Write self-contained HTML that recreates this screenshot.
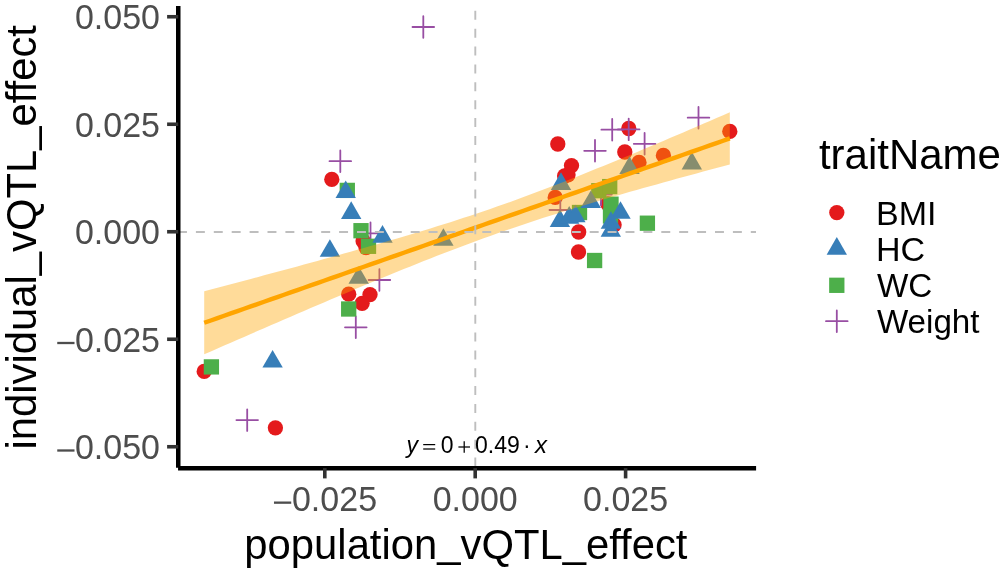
<!DOCTYPE html>
<html><head><meta charset="utf-8"><style>
html,body{margin:0;padding:0;background:#fff;}
body{width:1000px;height:579px;overflow:hidden;}
svg{display:block;will-change:transform;}
text{font-family:"Liberation Sans",sans-serif;}
</style></head><body>
<svg width="1000" height="579" viewBox="0 0 1000 579">
<rect width="1000" height="579" fill="#fff"/>
<g>
<circle cx="331.80" cy="179.40" r="7.65" fill="#E41A1C"/>
<circle cx="363.10" cy="241.00" r="7.65" fill="#E41A1C"/>
<circle cx="366.00" cy="247.50" r="7.65" fill="#E41A1C"/>
<circle cx="348.70" cy="294.20" r="7.65" fill="#E41A1C"/>
<circle cx="370.00" cy="294.60" r="7.65" fill="#E41A1C"/>
<circle cx="362.10" cy="303.30" r="7.65" fill="#E41A1C"/>
<circle cx="204.20" cy="371.40" r="7.65" fill="#E41A1C"/>
<circle cx="275.40" cy="427.80" r="7.65" fill="#E41A1C"/>
<circle cx="557.80" cy="144.00" r="7.65" fill="#E41A1C"/>
<circle cx="571.50" cy="165.60" r="7.65" fill="#E41A1C"/>
<circle cx="564.60" cy="176.00" r="7.65" fill="#E41A1C"/>
<circle cx="568.00" cy="174.80" r="7.65" fill="#E41A1C"/>
<circle cx="555.20" cy="197.40" r="7.65" fill="#E41A1C"/>
<circle cx="578.70" cy="232.00" r="7.65" fill="#E41A1C"/>
<circle cx="578.50" cy="252.00" r="7.65" fill="#E41A1C"/>
<circle cx="607.90" cy="203.80" r="7.65" fill="#E41A1C"/>
<circle cx="614.10" cy="224.80" r="7.65" fill="#E41A1C"/>
<circle cx="628.80" cy="128.50" r="7.65" fill="#E41A1C"/>
<circle cx="624.80" cy="152.00" r="7.65" fill="#E41A1C"/>
<circle cx="639.00" cy="162.40" r="7.65" fill="#E41A1C"/>
<circle cx="663.40" cy="155.40" r="7.65" fill="#E41A1C"/>
<circle cx="729.80" cy="131.40" r="7.65" fill="#E41A1C"/>
<path d="M412.50,27.00 H434.10 M423.30,16.20 V37.80" stroke="#984EA3" stroke-width="1.8" stroke-linecap="round" fill="none"/>
<path d="M329.50,161.20 H351.10 M340.30,150.40 V172.00" stroke="#984EA3" stroke-width="1.8" stroke-linecap="round" fill="none"/>
<path d="M359.70,233.30 H381.30 M370.50,222.50 V244.10" stroke="#984EA3" stroke-width="1.8" stroke-linecap="round" fill="none"/>
<path d="M368.60,280.00 H390.20 M379.40,269.20 V290.80" stroke="#984EA3" stroke-width="1.8" stroke-linecap="round" fill="none"/>
<path d="M345.00,327.30 H366.60 M355.80,316.50 V338.10" stroke="#984EA3" stroke-width="1.8" stroke-linecap="round" fill="none"/>
<path d="M236.40,420.10 H258.00 M247.20,409.30 V430.90" stroke="#984EA3" stroke-width="1.8" stroke-linecap="round" fill="none"/>
<path d="M584.20,150.80 H605.80 M595.00,140.00 V161.60" stroke="#984EA3" stroke-width="1.8" stroke-linecap="round" fill="none"/>
<path d="M549.50,210.00 H571.10 M560.30,199.20 V220.80" stroke="#984EA3" stroke-width="1.8" stroke-linecap="round" fill="none"/>
<path d="M590.20,194.50 H611.80 M601.00,183.70 V205.30" stroke="#984EA3" stroke-width="1.8" stroke-linecap="round" fill="none"/>
<path d="M601.40,129.70 H623.00 M612.20,118.90 V140.50" stroke="#984EA3" stroke-width="1.8" stroke-linecap="round" fill="none"/>
<path d="M617.90,129.40 H639.50 M628.70,118.60 V140.20" stroke="#984EA3" stroke-width="1.8" stroke-linecap="round" fill="none"/>
<path d="M633.80,143.80 H655.40 M644.60,133.00 V154.60" stroke="#984EA3" stroke-width="1.8" stroke-linecap="round" fill="none"/>
<path d="M687.70,117.70 H709.30 M698.50,106.90 V128.50" stroke="#984EA3" stroke-width="1.8" stroke-linecap="round" fill="none"/>
<rect x="339.65" y="182.75" width="15.3" height="15.3" fill="#4DAF4A"/>
<rect x="353.35" y="223.05" width="15.3" height="15.3" fill="#4DAF4A"/>
<rect x="360.85" y="238.65" width="15.3" height="15.3" fill="#4DAF4A"/>
<rect x="341.05" y="301.35" width="15.3" height="15.3" fill="#4DAF4A"/>
<rect x="203.75" y="359.25" width="15.3" height="15.3" fill="#4DAF4A"/>
<rect x="571.85" y="204.85" width="15.3" height="15.3" fill="#4DAF4A"/>
<rect x="586.95" y="252.85" width="15.3" height="15.3" fill="#4DAF4A"/>
<rect x="591.15" y="183.05" width="15.3" height="15.3" fill="#4DAF4A"/>
<rect x="602.05" y="178.95" width="15.3" height="15.3" fill="#4DAF4A"/>
<rect x="603.35" y="196.55" width="15.3" height="15.3" fill="#4DAF4A"/>
<rect x="602.85" y="208.35" width="15.3" height="15.3" fill="#4DAF4A"/>
<rect x="639.75" y="215.55" width="15.3" height="15.3" fill="#4DAF4A"/>
<path d="M345.70,180.45 L355.88,198.07 L335.52,198.07 Z" fill="#377EB8"/>
<path d="M351.20,201.35 L361.38,218.97 L341.02,218.97 Z" fill="#377EB8"/>
<path d="M329.90,239.15 L340.08,256.77 L319.72,256.77 Z" fill="#377EB8"/>
<path d="M382.50,225.05 L392.68,242.68 L372.32,242.68 Z" fill="#377EB8"/>
<path d="M358.70,266.15 L368.88,283.77 L348.52,283.77 Z" fill="#377EB8"/>
<path d="M443.40,228.15 L453.58,245.78 L433.22,245.78 Z" fill="#377EB8"/>
<path d="M272.60,349.95 L282.78,367.57 L262.42,367.57 Z" fill="#377EB8"/>
<path d="M561.00,172.25 L571.18,189.88 L550.82,189.88 Z" fill="#377EB8"/>
<path d="M559.90,209.25 L570.08,226.88 L549.72,226.88 Z" fill="#377EB8"/>
<path d="M569.20,206.05 L579.38,223.68 L559.02,223.68 Z" fill="#377EB8"/>
<path d="M575.40,204.65 L585.58,222.28 L565.22,222.28 Z" fill="#377EB8"/>
<path d="M590.80,190.45 L600.98,208.07 L580.62,208.07 Z" fill="#377EB8"/>
<path d="M620.50,201.15 L630.68,218.78 L610.32,218.78 Z" fill="#377EB8"/>
<path d="M610.90,211.15 L621.08,228.78 L600.72,228.78 Z" fill="#377EB8"/>
<path d="M610.80,219.05 L620.98,236.68 L600.62,236.68 Z" fill="#377EB8"/>
<path d="M629.50,156.25 L639.68,173.88 L619.32,173.88 Z" fill="#377EB8"/>
<path d="M691.80,151.75 L701.98,169.38 L681.62,169.38 Z" fill="#377EB8"/>
</g>
<path d="M204.20,291.24 L210.85,289.48 L217.51,287.73 L224.16,285.97 L230.81,284.21 L237.47,282.44 L244.12,280.67 L250.77,278.90 L257.43,277.13 L264.08,275.35 L270.73,273.57 L277.38,271.78 L284.04,269.99 L290.69,268.19 L297.34,266.39 L304.00,264.58 L310.65,262.77 L317.30,260.95 L323.96,259.12 L330.61,257.29 L337.26,255.44 L343.92,253.59 L350.57,251.73 L357.22,249.86 L363.88,247.98 L370.53,246.09 L377.18,244.19 L383.84,242.27 L390.49,240.34 L397.14,238.39 L403.79,236.43 L410.45,234.45 L417.10,232.45 L423.75,230.44 L430.41,228.40 L437.06,226.34 L443.71,224.25 L450.37,222.15 L457.02,220.01 L463.67,217.85 L470.33,215.66 L476.98,213.44 L483.63,211.20 L490.29,208.92 L496.94,206.61 L503.59,204.27 L510.25,201.90 L516.90,199.50 L523.55,197.07 L530.21,194.61 L536.86,192.12 L543.51,189.61 L550.16,187.06 L556.82,184.50 L563.47,181.90 L570.12,179.29 L576.78,176.65 L583.43,174.00 L590.08,171.32 L596.74,168.62 L603.39,165.91 L610.04,163.19 L616.70,160.44 L623.35,157.69 L630.00,154.92 L636.66,152.14 L643.31,149.35 L649.96,146.54 L656.62,143.73 L663.27,140.91 L669.92,138.08 L676.57,135.25 L683.23,132.40 L689.88,129.55 L696.53,126.70 L703.19,123.83 L709.84,120.96 L716.49,118.09 L723.15,115.21 L729.80,112.33 L729.80,164.43 L723.15,166.21 L716.49,168.00 L709.84,169.80 L703.19,171.60 L696.53,173.40 L689.88,175.22 L683.23,177.03 L676.57,178.86 L669.92,180.69 L663.27,182.53 L656.62,184.38 L649.96,186.24 L643.31,188.10 L636.66,189.98 L630.00,191.87 L623.35,193.77 L616.70,195.68 L610.04,197.61 L603.39,199.55 L596.74,201.51 L590.08,203.48 L583.43,205.47 L576.78,207.48 L570.12,209.51 L563.47,211.57 L556.82,213.65 L550.16,215.75 L543.51,217.87 L536.86,220.03 L530.21,222.21 L523.55,224.42 L516.90,226.65 L510.25,228.92 L503.59,231.22 L496.94,233.55 L490.29,235.91 L483.63,238.30 L476.98,240.72 L470.33,243.17 L463.67,245.65 L457.02,248.16 L450.37,250.70 L443.71,253.26 L437.06,255.84 L430.41,258.45 L423.75,261.08 L417.10,263.73 L410.45,266.40 L403.79,269.09 L397.14,271.80 L390.49,274.52 L383.84,277.26 L377.18,280.01 L370.53,282.77 L363.88,285.55 L357.22,288.34 L350.57,291.14 L343.92,293.95 L337.26,296.77 L330.61,299.59 L323.96,302.43 L317.30,305.27 L310.65,308.12 L304.00,310.97 L297.34,313.83 L290.69,316.70 L284.04,319.57 L277.38,322.45 L270.73,325.33 L264.08,328.22 L257.43,331.11 L250.77,334.00 L244.12,336.90 L237.47,339.80 L230.81,342.70 L224.16,345.61 L217.51,348.52 L210.85,351.43 L204.20,354.35 Z" fill="#FFA500" fill-opacity="0.4"/>
<path d="M204.20,322.79 L210.85,320.46 L217.51,318.12 L224.16,315.79 L230.81,313.45 L237.47,311.12 L244.12,308.79 L250.77,306.45 L257.43,304.12 L264.08,301.78 L270.73,299.45 L277.38,297.11 L284.04,294.78 L290.69,292.45 L297.34,290.11 L304.00,287.78 L310.65,285.44 L317.30,283.11 L323.96,280.77 L330.61,278.44 L337.26,276.10 L343.92,273.77 L350.57,271.44 L357.22,269.10 L363.88,266.77 L370.53,264.43 L377.18,262.10 L383.84,259.76 L390.49,257.43 L397.14,255.10 L403.79,252.76 L410.45,250.43 L417.10,248.09 L423.75,245.76 L430.41,243.42 L437.06,241.09 L443.71,238.75 L450.37,236.42 L457.02,234.09 L463.67,231.75 L470.33,229.42 L476.98,227.08 L483.63,224.75 L490.29,222.41 L496.94,220.08 L503.59,217.75 L510.25,215.41 L516.90,213.08 L523.55,210.74 L530.21,208.41 L536.86,206.07 L543.51,203.74 L550.16,201.41 L556.82,199.07 L563.47,196.74 L570.12,194.40 L576.78,192.07 L583.43,189.73 L590.08,187.40 L596.74,185.06 L603.39,182.73 L610.04,180.40 L616.70,178.06 L623.35,175.73 L630.00,173.39 L636.66,171.06 L643.31,168.72 L649.96,166.39 L656.62,164.06 L663.27,161.72 L669.92,159.39 L676.57,157.05 L683.23,154.72 L689.88,152.38 L696.53,150.05 L703.19,147.72 L709.84,145.38 L716.49,143.05 L723.15,140.71 L729.80,138.38" stroke="#FFA500" stroke-width="4.4" fill="none" stroke-linejoin="round"/>
<line x1="178" x2="756" y1="231.95" y2="231.95" stroke="#BEBEBE" stroke-width="1.9" stroke-dasharray="8.95 8.95"/>
<line x1="475.3" x2="475.3" y1="466.6" y2="6" stroke="#BEBEBE" stroke-width="1.9" stroke-dasharray="9 8.87"/>
<g stroke="#000" stroke-width="4.5" fill="none">
<line x1="178.25" x2="178.25" y1="5.9" y2="467.7" stroke-linecap="butt"/>
<line x1="178.05" x2="756.1" y1="468.15" y2="468.15" stroke-linecap="butt"/>
</g>
<g stroke="#333333" stroke-width="3.6"><line x1="167.1" x2="178.25" y1="16.75" y2="16.75"/><line x1="167.1" x2="178.25" y1="124.25" y2="124.25"/><line x1="167.1" x2="178.25" y1="231.75" y2="231.75"/><line x1="167.1" x2="178.25" y1="339.25" y2="339.25"/><line x1="167.1" x2="178.25" y1="446.75" y2="446.75"/><line x1="324.8" x2="324.8" y1="468.15" y2="478.4"/><line x1="475.2" x2="475.2" y1="468.15" y2="478.4"/><line x1="625.6" x2="625.6" y1="468.15" y2="478.4"/></g>
<g font-size="34" fill="#4D4D4D" text-anchor="end"><text transform="translate(160.0,29.25) scale(1,1.045)">0.050</text><text transform="translate(160.0,136.75) scale(1,1.045)">0.025</text><text transform="translate(160.0,244.25) scale(1,1.045)">0.000</text><text transform="translate(160.0,351.75) scale(1,1.045)">0.025</text><rect x="57.25" y="341.85" width="17.25" height="2.3" fill="#4D4D4D"/><text transform="translate(160.0,459.25) scale(1,1.045)">0.050</text><rect x="57.25" y="449.35" width="17.25" height="2.3" fill="#4D4D4D"/></g>
<g font-size="34" fill="#4D4D4D" text-anchor="middle"><rect x="273.98" y="501.50" width="17.25" height="2.3" fill="#4D4D4D"/><text transform="translate(291.97,511.4) scale(1,1.045)" text-anchor="start">0.025</text><text transform="translate(475.2,511.4) scale(1,1.045)">0.000</text><text transform="translate(625.6,511.4) scale(1,1.045)">0.025</text></g>
<text x="465.9" y="559.4" font-size="41.8" text-anchor="middle" fill="#000">population<tspan dy="-2.4">_</tspan><tspan dy="2.4">vQTL</tspan><tspan dy="-2.4">_</tspan><tspan dy="2.4">effect</tspan></text>
<text transform="translate(36.3,237.3) rotate(-90)" x="0" y="0" font-size="41.8" text-anchor="middle" fill="#000">individual<tspan dy="-2.4">_</tspan><tspan dy="2.4">vQTL</tspan><tspan dy="-2.4">_</tspan><tspan dy="2.4">effect</tspan></text>
<text x="818.9" y="169" font-size="42" fill="#000">traitName</text>
<circle cx="836.80" cy="212.60" r="7.65" fill="#E41A1C"/><path d="M836.80,237.05 L846.98,254.67 L826.62,254.67 Z" fill="#377EB8"/><rect x="829.15" y="277.65" width="15.3" height="15.3" fill="#4DAF4A"/><path d="M826.00,321.20 H847.60 M836.80,310.40 V332.00" stroke="#984EA3" stroke-width="1.8" stroke-linecap="round" fill="none"/>
<g font-size="34" fill="#000"><text x="876" y="224.70">BMI</text><text x="876" y="260.70">HC</text><text x="876.9" y="297.40" textLength="55.4" lengthAdjust="spacingAndGlyphs">WC</text><text x="876.9" y="333.30" textLength="102.6" lengthAdjust="spacingAndGlyphs">Weight</text></g>
<g font-size="23" fill="#000">
<text x="406.5" y="453" font-style="italic">y</text>
<text x="440.7" y="453">0</text>
<text x="475" y="453">0.49</text>
<text x="523" y="453">&#183;</text>
<text x="535" y="453" font-style="italic" font-size="24">x</text>
</g>
<g stroke="#000" stroke-width="1.25" fill="none">
<line x1="423.2" x2="435.2" y1="444.6" y2="444.6"/>
<line x1="423.2" x2="435.2" y1="449.0" y2="449.0"/>
<line x1="458.4" x2="470" y1="447.0" y2="447.0"/>
<line x1="464.2" x2="464.2" y1="441.2" y2="452.8"/>
</g>
</svg>
</body></html>
